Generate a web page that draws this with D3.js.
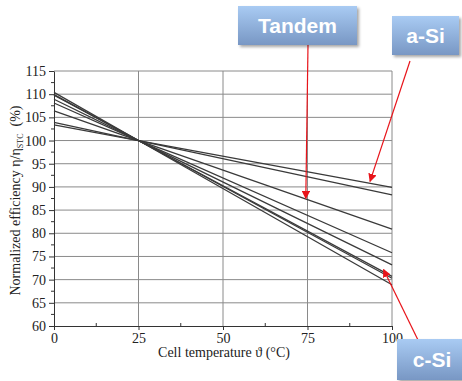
<!DOCTYPE html>
<html>
<head>
<meta charset="utf-8">
<script src="https://cdn.jsdelivr.net/npm/d3@7"></script>
<style>
  body { margin: 0; background: #fff; }
  .serif { font-family: "Liberation Serif", "Times New Roman", serif; }
  .callout { font-family: "Liberation Sans", Arial, sans-serif; font-weight: bold; }
</style>
</head>
<body>
<div id="container"></div>
<script>
/* CONSTANTS AND GLOBALS */
const width = 462,
  height = 381,
  margin = { top: 71, bottom: 55, left: 54, right: 70 }

/* DATA */
const temps = [0, 25, 100]
// normalized efficiency (%) at 0, 25 and 100 °C for each module
const module1 = [103.4, 100, 89.9]  // a-Si
const module2 = [103.9, 100, 88.3]
const module3 = [106.4, 100, 80.9]  // tandem
const module4 = [108.1, 100, 75.8]
const module5 = [108.9, 100, 73.2]
const module6 = [109.8, 100, 70.7]
const module7 = [109.9, 100, 70.3]
const module8 = [110.4, 100, 68.9]  // c-Si
const series = [module1, module2, module3, module4, module5, module6, module7, module8]

const xTicks = [0, 25, 50, 75, 100]
const yTicks = [60, 65, 70, 75, 80, 85, 90, 95, 100, 105, 110, 115]

// callout labels: text and the (temp, efficiency) point they point at
const callouts = [
  { label: "Tandem", t: 74.5, v: 87.5 },
  { label: "a-Si", t: 93.5, v: 91.2 },
  { label: "c-Si", t: 97.5, v: 72.2 }
]

/* SCALES */
const xScale = d3.scaleLinear()
  .domain([0, 100])
  .range([margin.left, width - margin.right])

const yScale = d3.scaleLinear()
  .domain([60, 115])
  .range([height - margin.bottom, margin.top])

/* SVG */
const svg = d3.select("#container")
  .append("svg")
  .attr("width", width)
  .attr("height", height)

const defs = svg.append("defs")
const grad = defs.append("linearGradient")
  .attr("id", "boxGrad")
  .attr("x1", 0).attr("y1", 0).attr("x2", 0).attr("y2", 1)
grad.append("stop").attr("offset", "0%").attr("stop-color", "#a9cbf3")
grad.append("stop").attr("offset", "100%").attr("stop-color", "#7897c4")

const shadow = defs.append("filter").attr("id", "shadow")
  .attr("x", "-20%").attr("y", "-20%").attr("width", "150%").attr("height", "160%")
shadow.append("feDropShadow")
  .attr("dx", 2).attr("dy", 2).attr("stdDeviation", 1.5)
  .attr("flood-color", "#000").attr("flood-opacity", 0.35)

defs.append("marker")
  .attr("id", "arrow")
  .attr("viewBox", "0 0 10 10")
  .attr("refX", 9).attr("refY", 5)
  .attr("markerWidth", 7).attr("markerHeight", 7)
  .attr("orient", "auto")
  .append("path")
  .attr("d", "M0,0 L10,5 L0,10 z")
  .attr("fill", "#e8141a")

// GRID
svg.append("g")
  .selectAll("line")
  .data(yTicks.slice(1, -1))
  .join("line")
  .attr("x1", xScale(0)).attr("x2", xScale(100))
  .attr("y1", d => yScale(d)).attr("y2", d => yScale(d))
  .attr("stroke", "#8a8a8a")
  .attr("stroke-width", 1)

svg.append("g")
  .selectAll("line")
  .data([25, 50, 75])
  .join("line")
  .attr("x1", d => xScale(d)).attr("x2", d => xScale(d))
  .attr("y1", yScale(60)).attr("y2", yScale(115))
  .attr("stroke", "#8a8a8a")
  .attr("stroke-width", 1)

// frame (top and right)
svg.append("path")
  .attr("d", `M${xScale(0)},${yScale(115)} H${xScale(100)} V${yScale(60)}`)
  .attr("fill", "none")
  .attr("stroke", "#8a8a8a")

// AXES
const yAxis = d3.axisLeft(yScale)
  .tickValues(yTicks)
  .tickSize(5)
  .tickSizeOuter(0)
svg.append("g")
  .attr("transform", `translate(${margin.left}, 0)`)
  .call(yAxis)
  .call(g => g.selectAll("text").attr("class", "serif").attr("font-size", 14).attr("fill", "#222"))
  .call(g => g.selectAll("line, path").attr("stroke", "#333"))

svg.append("g")
  .attr("transform", `translate(${margin.left}, 0)`)
  .selectAll("line")
  .data(d3.range(62.5, 115, 5))
  .join("line")
  .attr("x1", -3).attr("x2", 0)
  .attr("y1", d => yScale(d)).attr("y2", d => yScale(d))
  .attr("stroke", "#333")

const xAxis = d3.axisBottom(xScale)
  .tickValues(xTicks)
  .tickSize(4)
  .tickSizeOuter(0)
svg.append("g")
  .attr("transform", `translate(0, ${height - margin.bottom})`)
  .call(xAxis)
  .call(g => g.selectAll("text").attr("class", "serif").attr("font-size", 14).attr("fill", "#222"))
  .call(g => g.selectAll("line, path").attr("stroke", "#333"))

svg.append("g")
  .selectAll("line")
  .data([12.5, 37.5, 62.5, 87.5])
  .join("line")
  .attr("x1", d => xScale(d)).attr("x2", d => xScale(d))
  .attr("y1", yScale(60)).attr("y2", yScale(60) - 3)
  .attr("stroke", "#333")

// axis titles
svg.append("text")
  .attr("class", "serif")
  .attr("x", (xScale(0) + xScale(100)) / 2 + 1)
  .attr("y", height - margin.bottom + 31)
  .attr("text-anchor", "middle")
  .attr("font-size", 14)
  .attr("fill", "#222")
  .text("Cell temperature ϑ (°C)")

const yLabel = svg.append("text")
  .attr("class", "serif")
  .attr("transform", `translate(20, ${(yScale(60) + yScale(115)) / 2 + 2}) rotate(-90)`)
  .attr("text-anchor", "middle")
  .attr("font-size", 14)
  .attr("fill", "#222")
yLabel.append("tspan").text("Normalized efficiency η/η")
yLabel.append("tspan").attr("font-size", 8).attr("dy", 3).text("STC")
yLabel.append("tspan").attr("dy", -3).text("\u00a0\u00a0(%)")

// LINES
const lineGen = d3.line()
  .x((d, i) => xScale(temps[i]))
  .y(d => yScale(d))

svg.selectAll(".line")
  .data(series)
  .join("path")
  .attr("class", "line")
  .attr("fill", "none")
  .attr("stroke", "#3a3a3a")
  .attr("stroke-width", 1.3)
  .attr("d", d => lineGen(d))

// CALLOUTS
const boxes = [
  { x: 238, y: 6, w: 119, h: 39, fs: 21, from: [308, 45] },
  { x: 392, y: 16, w: 67, h: 39, fs: 21, from: [410, 61] },
  { x: 397, y: 339, w: 70, h: 41, fs: 21, from: [418, 340] }
]

callouts.forEach((c, i) => {
  const b = boxes[i]
  svg.append("line")
    .attr("x1", b.from[0]).attr("y1", b.from[1])
    .attr("x2", xScale(c.t)).attr("y2", yScale(c.v))
    .attr("stroke", "#e8141a")
    .attr("stroke-width", 1.2)
    .attr("marker-end", "url(#arrow)")
})

callouts.forEach((c, i) => {
  const b = boxes[i]
  svg.append("rect")
    .attr("x", b.x).attr("y", b.y)
    .attr("width", b.w).attr("height", b.h)
    .attr("fill", "url(#boxGrad)")
    .attr("filter", "url(#shadow)")
  svg.append("text")
    .attr("class", "callout")
    .attr("x", b.x + b.w / 2)
    .attr("y", b.y + b.h / 2 + 7.5)
    .attr("text-anchor", "middle")
    .attr("font-size", b.fs)
    .attr("fill", "#fff")
    .text(c.label)
})
</script>
</body>
</html>
